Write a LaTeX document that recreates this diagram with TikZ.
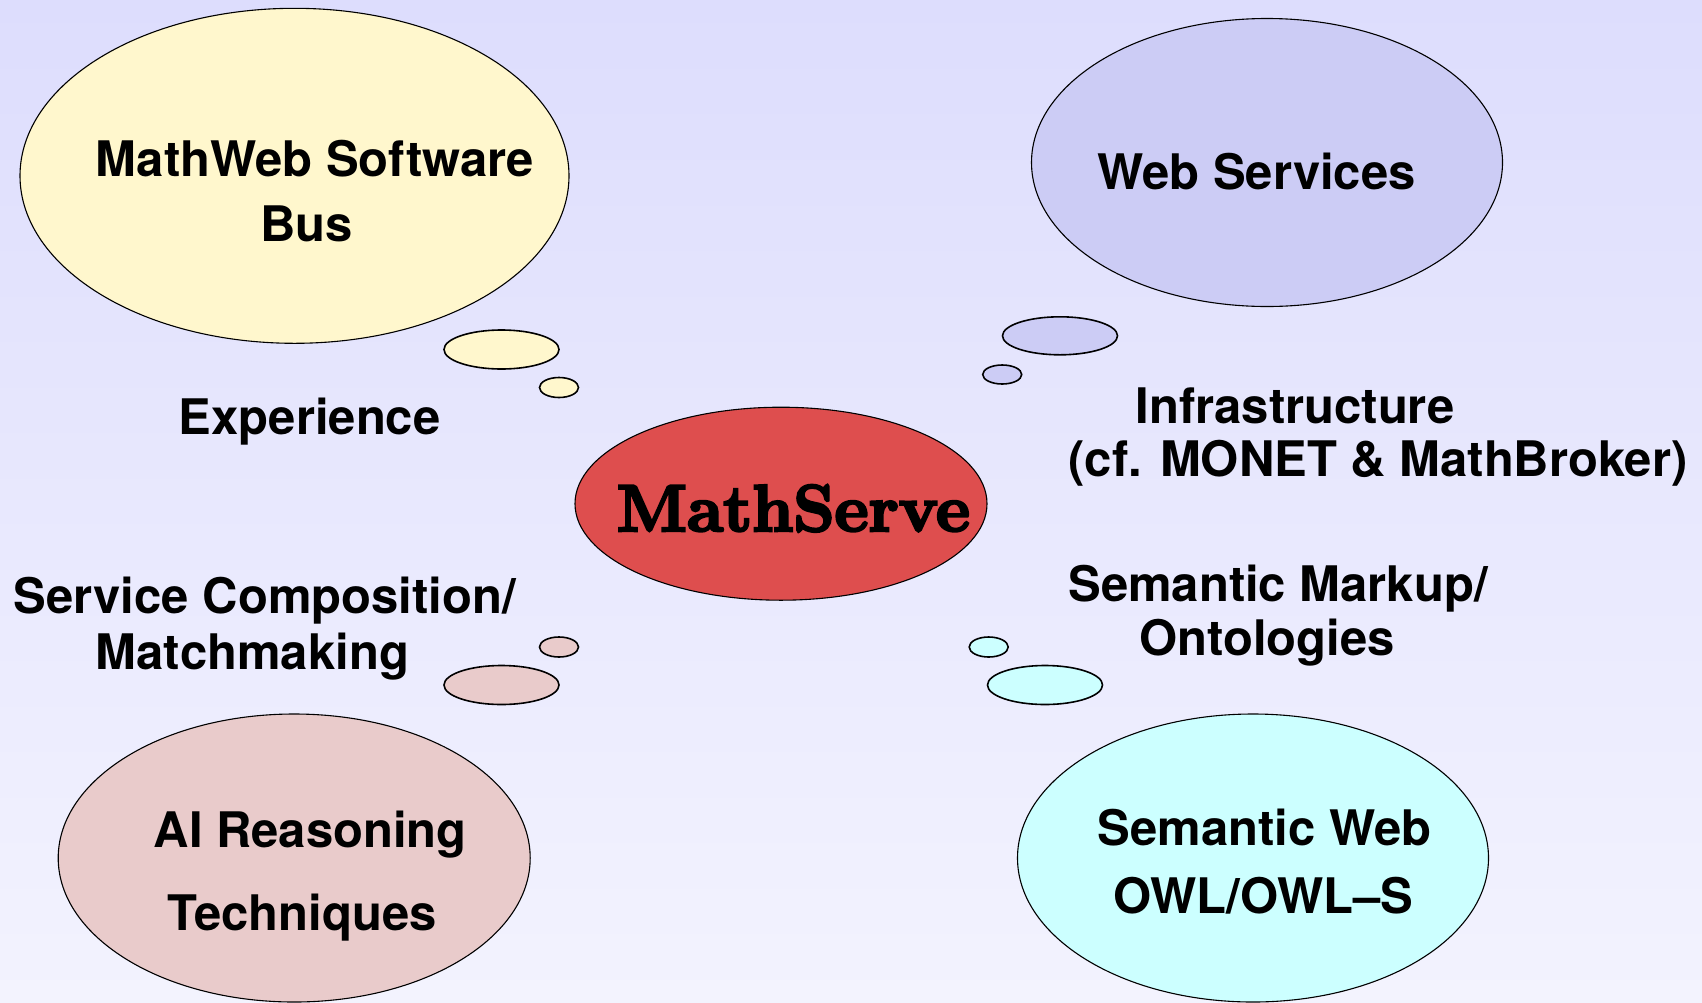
\documentclass[tikz,border=0pt]{standalone}
\usepackage{fontspec}
\newfontfamily\labfont{TeX Gyre Heros}
\newfontfamily\corefont{Latin Modern Roman}[BoldFeatures={FakeBold=4}]
\usetikzlibrary{shapes.geometric}
\definecolor{bgtop}{RGB}{221,221,253}
\definecolor{bgbot}{RGB}{243,243,254}
\definecolor{cyellow}{RGB}{255,247,205}
\definecolor{cviolet}{RGB}{204,204,245}
\definecolor{cred}{RGB}{222,78,78}
\definecolor{cpink}{RGB}{233,203,203}
\definecolor{ccyan}{RGB}{204,255,255}
\tikzset{
  bubble/.style={ellipse, draw=black, line width=1.1pt, inner sep=0pt, outer sep=0pt},
  puff/.style={ellipse, draw=black, line width=1.6pt, inner sep=0pt, outer sep=0pt},
  lab/.style={anchor=base, inner sep=0pt, font=\labfont\bfseries\fontsize{49}{58}\selectfont},
  core/.style={anchor=base, inner sep=0pt, font=\corefont\bfseries\fontsize{66}{72}\selectfont}
}
\begin{document}
\begin{tikzpicture}[x=1pt,y=-1pt]
\useasboundingbox (0,0) rectangle (1702,1002);
\shade[top color=bgtop, bottom color=bgbot] (0,0) rectangle (1702,1002);
% big bubbles
\node[bubble, fill=cyellow, minimum width=549pt, minimum height=335pt] (tl) at (294.5,175.8) {};
\node[bubble, fill=cviolet, minimum width=471pt, minimum height=288pt] (tr) at (1267,162.5) {};
\node[bubble, fill=cpink, minimum width=472pt, minimum height=288pt] (bl) at (294.2,858) {};
\node[bubble, fill=ccyan, minimum width=471pt, minimum height=288pt] (br) at (1253,858) {};
\node[bubble, fill=cred, minimum width=412pt, minimum height=193pt] (c) at (781,503.7) {};
% small puffs
\node[puff, fill=cyellow, minimum width=115pt, minimum height=39pt] (tl1) at (501.5,349.5) {};
\node[puff, fill=cyellow, minimum width=39pt, minimum height=20pt] (tl2) at (559,387.5) {};
\node[puff, fill=cviolet, minimum width=115pt, minimum height=38pt] (tr1) at (1060,335.8) {};
\node[puff, fill=cviolet, minimum width=39pt, minimum height=19pt] (tr2) at (1002.2,374.5) {};
\node[puff, fill=cpink, minimum width=39pt, minimum height=20pt] (bl2) at (559,647) {};
\node[puff, fill=cpink, minimum width=115pt, minimum height=39pt] (bl1) at (501.5,685) {};
\node[puff, fill=ccyan, minimum width=39pt, minimum height=20pt] (br2) at (988.7,647) {};
\node[puff, fill=ccyan, minimum width=115pt, minimum height=39pt] (br1) at (1045,685) {};
% texts
\node[lab] (t1) at (315,176) {MathWeb Software};
\node[lab] (t2) at (306.7,241) {Bus};
\node[lab] (t3) at (1256.5,189) {Web Services};
\node[lab] (t4) at (309.7,434) {Experience};
\node[lab] (t5) at (1295,423) {Infrastructure};
\node[lab] (t6) at (1378,476) {(cf. MONET \& MathBroker)};
\node[core] (t7) at (793.3,531) {MathServe};
\node[lab] (t8) at (264.9,613) {Service Composition/};
\node[lab] (t9) at (252.4,669) {Matchmaking};
\node[lab] (t10) at (1278,601) {Semantic Markup/};
\node[lab] (t11) at (1267,655) {Ontologies};
\node[lab] (t12) at (310.3,847.3) {AI Reasoning};
\node[lab] (t13) at (302.5,930) {Techniques};
\node[lab] (t14) at (1264.5,845) {Semantic Web};
\node[lab] (t15) at (1263.3,913.3) {OWL/OWL–S};
\end{tikzpicture}
\end{document}
